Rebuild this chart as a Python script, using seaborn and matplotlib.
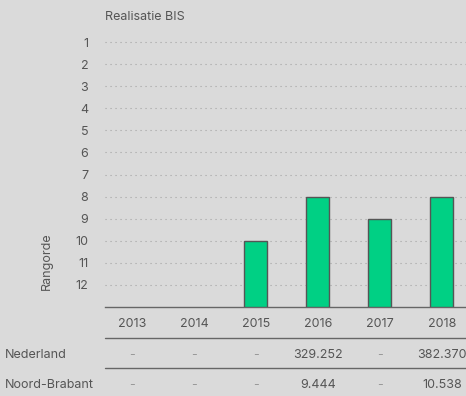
import numpy as np
import pandas as pd
import matplotlib
matplotlib.use("Agg")
import matplotlib.pyplot as plt
import seaborn as sns

# data
years = ["2013", "2014", "2015", "2016", "2017", "2018"]
rank = [np.nan, np.nan, 10, 8, 9, 8]
nederland = ["-", "-", "-", "329.252", "-", "382.370"]
noord_brabant = ["-", "-", "-", "9.444", "-", "10.538"]
rank_ticks = list(range(1, 13))
base_rank = 13  # bars grow up from below rank 12

bg = "#dadada"
txt = "#555555"
green = "#00d084"

sns.set_theme(style="white")
plt.rcParams["font.family"] = ["Inter", "DejaVu Sans"]
fs = 9.0

df = pd.DataFrame({"year": years, "rank": rank})
df["height"] = base_rank - df["rank"]

fig = plt.figure(figsize=(4.66, 3.96), dpi=100, facecolor=bg)
ax = fig.add_axes([105 / 466, 1 - 307 / 396, 1 - 105 / 466, (307 - 30) / 396])
ax.set_facecolor(bg)

sns.barplot(data=df, x="year", y="height", order=years, color=green,
            width=0.37, edgecolor="#555555", linewidth=1.0, saturation=1,
            ax=ax, zorder=3)

px = 22.08  # pixels per rank step
ax.set_ylim(0, (307 - 30) / px)
ax.set_xlim(-0.435, 5.39)
ax.set_yticks([base_rank - r for r in rank_ticks])
ax.set_yticklabels([str(r) for r in rank_ticks], color=txt, fontsize=fs)
ax.tick_params(axis="y", length=0, pad=12)
ax.set_xticks([])
ax.set_xlabel("")
ax.set_ylabel("")
for r in rank_ticks:
    ax.axhline(base_rank - r, color="#a3a3a3", linestyle=(0, (1, 3.5)), linewidth=0.8, zorder=1)
for s in ["top", "right", "left"]:
    ax.spines[s].set_visible(False)
ax.spines["bottom"].set_color("#666666")
ax.spines["bottom"].set_linewidth(1.0)

fig.text(105 / 466, 1 - 17 / 396, "Realisatie BIS", color=txt, fontsize=fs, va="center", ha="left")
fig.text(47 / 466, 1 - 261 / 396, "Rangorde", color=txt, fontsize=fs, rotation=90, va="center", ha="center")

# table under the chart
def yd(ypix):
    return (307 - ypix) / px

def cell_color(s):
    return "#999999" if s == "-" else txt

for i, y in enumerate(years):
    ax.text(i, yd(324), y, ha="center", va="center", color=txt, fontsize=fs, clip_on=False)
    ax.text(i, yd(355), nederland[i], ha="center", va="center", color=cell_color(nederland[i]), fontsize=fs, clip_on=False)
    ax.text(i, yd(385), noord_brabant[i], ha="center", va="center", color=cell_color(noord_brabant[i]), fontsize=fs, clip_on=False)

for ypix in [338, 368]:
    ax.plot([-0.435, 5.39], [yd(ypix)] * 2, color="#666666", linewidth=1.0, clip_on=False)

fig.text(5 / 466, 1 - 355 / 396, "Nederland", color=txt, fontsize=fs, va="center", ha="left")
fig.text(5 / 466, 1 - 385 / 396, "Noord-Brabant", color=txt, fontsize=fs, va="center", ha="left")

fig.savefig("out.png", dpi=100, facecolor=bg)
